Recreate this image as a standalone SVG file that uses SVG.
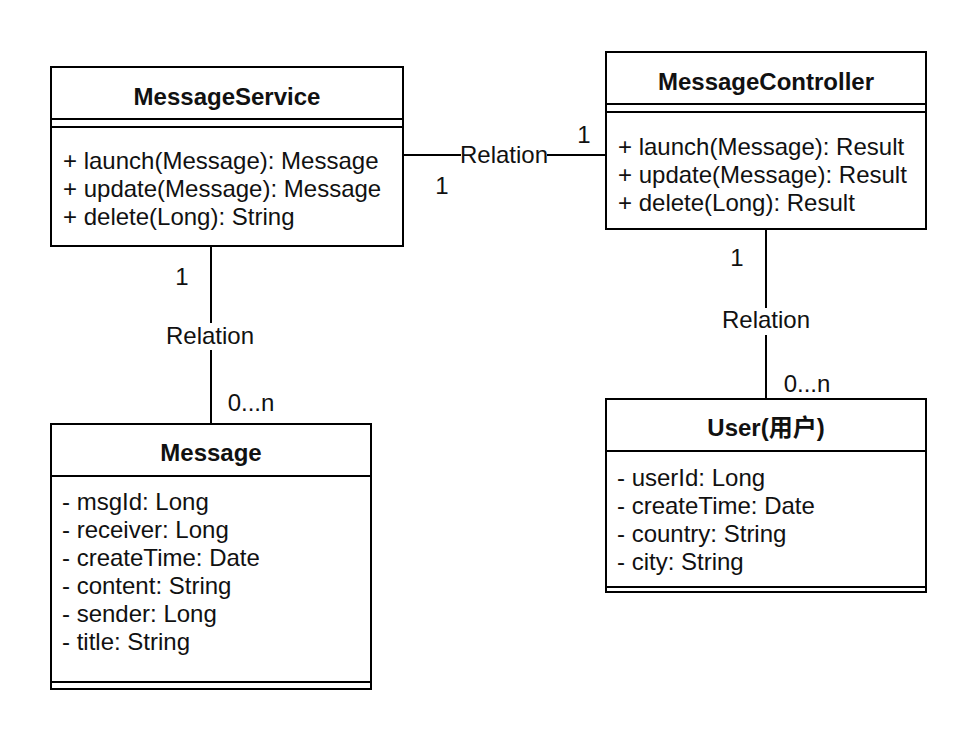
<svg xmlns="http://www.w3.org/2000/svg" width="978" height="740" viewBox="0 0 978 740">
<style>
text{font-family:"Liberation Sans",Arial,"Noto Sans CJK SC",sans-serif;font-size:24px;fill:#111}
.t{font-weight:bold;text-anchor:middle}
.c{text-anchor:middle}
.box{fill:#fff;stroke:#000;stroke-width:2}
.ln{stroke:#000;stroke-width:2;fill:none}
.bg{fill:#fff}
</style>
<rect width="978" height="740" fill="#fff"/>
<g id="connectors">
  <line class="ln" x1="403" y1="155" x2="606" y2="155"/>
  <rect class="bg" x="461" y="142" width="86" height="26"/>
  <text class="c" x="504" y="163">Relation</text>
  <text class="c" x="584" y="143">1</text>
  <text class="c" x="442" y="194">1</text>
  <line class="ln" x1="211" y1="246" x2="211" y2="424"/>
  <rect class="bg" x="164" y="323" width="94" height="27"/>
  <text class="c" x="210" y="344">Relation</text>
  <text class="c" x="182" y="285">1</text>
  <text class="c" x="251" y="411">0...n</text>
  <line class="ln" x1="766" y1="229" x2="766" y2="399"/>
  <rect class="bg" x="720" y="308" width="94" height="27"/>
  <text class="c" x="766" y="328">Relation</text>
  <text class="c" x="737" y="266">1</text>
  <text class="c" x="807" y="392">0...n</text>
</g>
<g id="MessageService">
  <rect class="box" x="51" y="67" width="352" height="179"/>
  <line class="ln" x1="51" y1="119" x2="403" y2="119"/>
  <line class="ln" x1="51" y1="127" x2="403" y2="127"/>
  <text class="t" x="227" y="105">MessageService</text>
  <text x="63" y="169">+ launch(Message): Message</text>
  <text x="63" y="197">+ update(Message): Message</text>
  <text x="63" y="225">+ delete(Long): String</text>
</g>
<g id="MessageController">
  <rect class="box" x="606" y="52" width="320" height="177"/>
  <line class="ln" x1="606" y1="104" x2="926" y2="104"/>
  <line class="ln" x1="606" y1="112" x2="926" y2="112"/>
  <text class="t" x="766" y="90">MessageController</text>
  <text x="618" y="155">+ launch(Message): Result</text>
  <text x="618" y="183">+ update(Message): Result</text>
  <text x="618" y="211">+ delete(Long): Result</text>
</g>
<g id="Message">
  <rect class="box" x="51" y="424" width="320" height="265"/>
  <line class="ln" x1="51" y1="476" x2="371" y2="476"/>
  <line class="ln" x1="51" y1="682" x2="371" y2="682"/>
  <text class="t" x="211" y="461">Message</text>
  <text x="62" y="510">- msgId: Long</text>
  <text x="62" y="538">- receiver: Long</text>
  <text x="62" y="566">- createTime: Date</text>
  <text x="62" y="594">- content: String</text>
  <text x="62" y="622">- sender: Long</text>
  <text x="62" y="650">- title: String</text>
</g>
<g id="User">
  <rect class="box" x="606" y="399" width="320" height="193"/>
  <line class="ln" x1="606" y1="451" x2="926" y2="451"/>
  <line class="ln" x1="606" y1="587" x2="926" y2="587"/>
  <text class="t" x="766" y="436">User(用户)</text>
  <text x="617" y="486">- userId: Long</text>
  <text x="617" y="514">- createTime: Date</text>
  <text x="617" y="542">- country: String</text>
  <text x="617" y="570">- city: String</text>
</g>
</svg>
